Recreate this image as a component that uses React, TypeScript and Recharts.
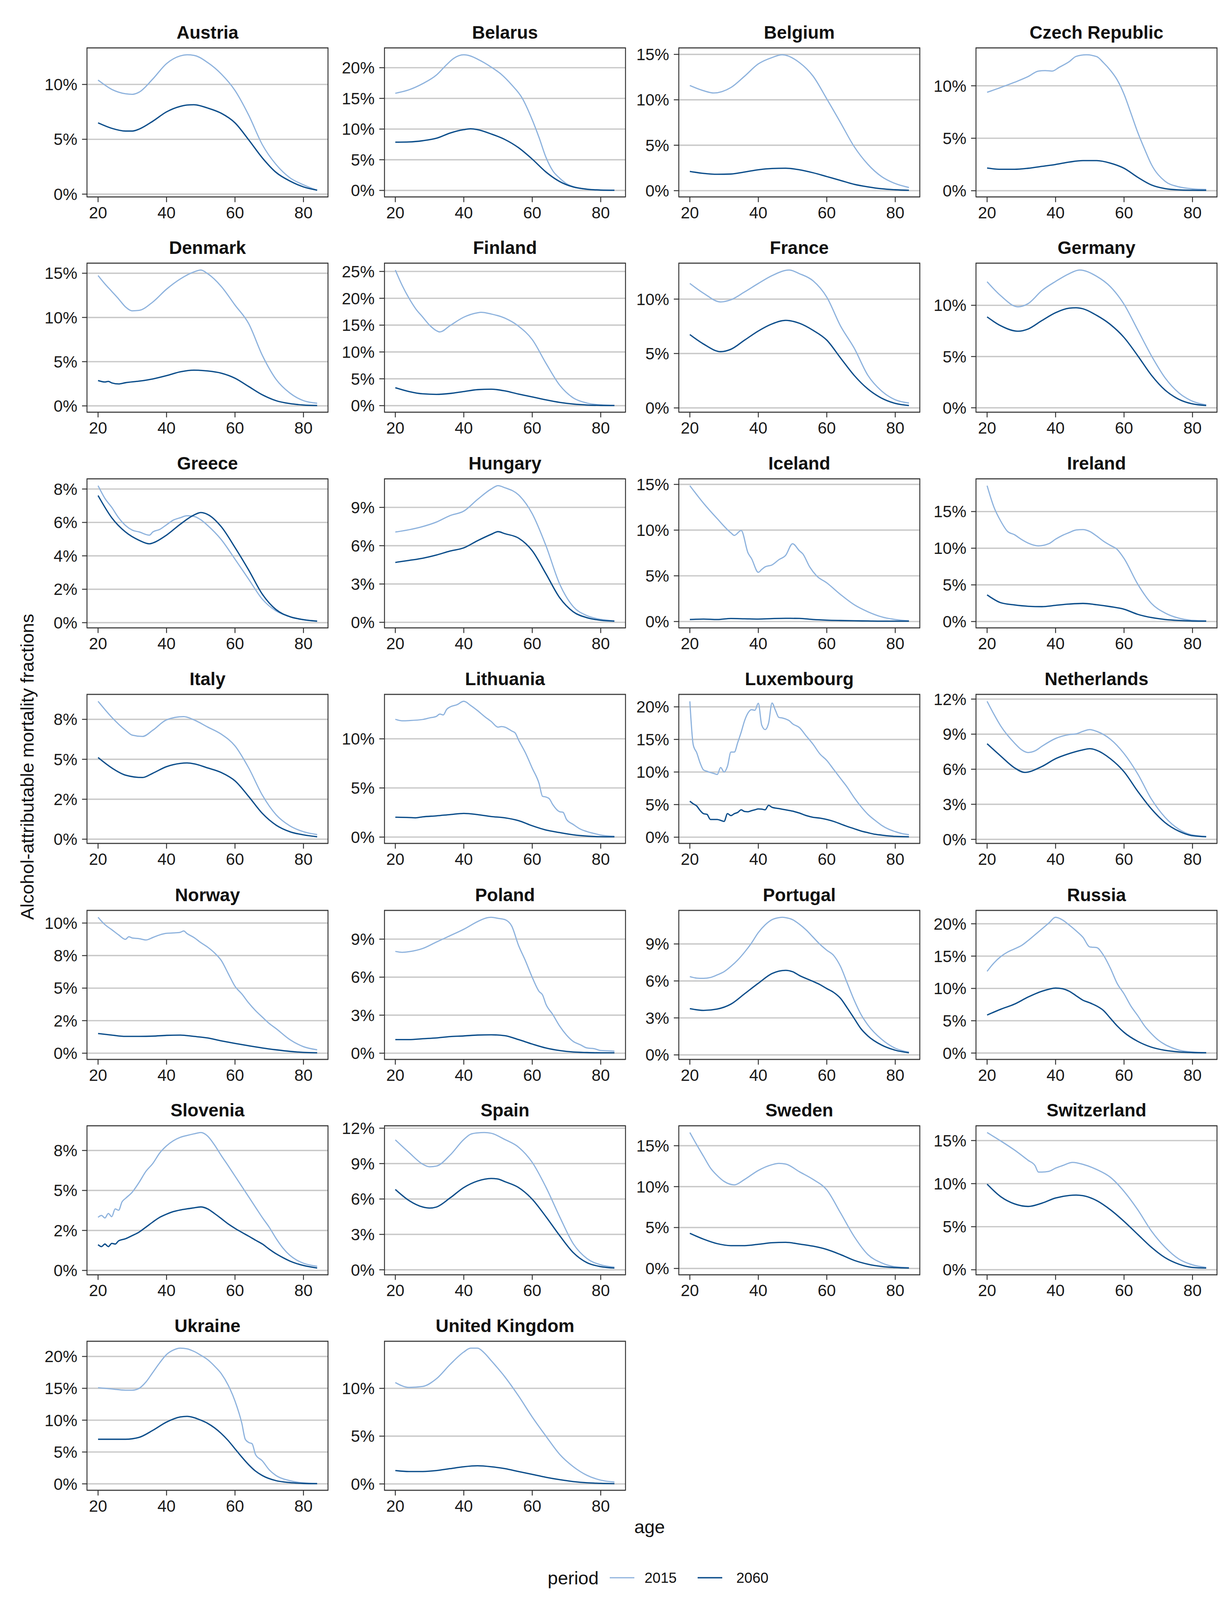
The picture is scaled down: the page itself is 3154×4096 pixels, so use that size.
import React from 'react';
import { LineChart, Line, XAxis, YAxis, CartesianGrid } from 'recharts';

const AGE_TICKS = [20, 40, 60, 80];
const A = [20, 24, 28, 32, 36, 40, 44, 48, 52, 56, 60, 64, 68, 72, 76, 80, 84];

// Austria
const austriaAge15 = [20, 24, 28, 30, 32, 36, 40, 44, 46, 48, 52, 56, 60, 64, 68, 72, 76, 80, 84];
const austriaVal15 = [10.4, 9.55, 9.15, 9.1, 9.3, 10.5, 11.9, 12.6, 12.7, 12.65, 12.0, 10.95, 9.45, 7.2, 4.5, 2.7, 1.5, 0.85, 0.35];
const austriaAge60 = austriaAge15;
const austriaVal60 = [6.5, 6.0, 5.75, 5.75, 5.93, 6.65, 7.5, 8.0, 8.12, 8.15, 7.85, 7.37, 6.5, 4.95, 3.3, 1.98, 1.2, 0.66, 0.36];
const austriaTicks = [0, 5, 10];

// Belarus
const belarusAge15 = [20, 24, 28, 32, 35, 37, 40, 42, 44, 46, 48, 51, 54, 57, 60, 62, 64, 66, 68, 70, 74, 78, 84];
const belarusVal15 = [15.84, 16.4, 17.4, 18.8, 20.5, 21.5, 22.1, 21.9, 21.4, 20.8, 20.1, 18.9, 17.2, 15.1, 11.5, 8.6, 5.4, 3.2, 2.0, 1.1, 0.35, 0.1, 0.03];
const belarusAge60 = [20, 24, 28, 32, 36, 40, 42, 44, 48, 52, 56, 60, 64, 68, 72, 76, 80, 84];
const belarusVal60 = [7.86, 7.9, 8.1, 8.5, 9.35, 9.9, 10.05, 9.9, 9.2, 8.3, 6.96, 5.1, 3.0, 1.45, 0.56, 0.2, 0.06, 0.02];
const belarusTicks = [0, 5, 10, 15, 20];

// Belgium
const belgiumAge15 = [20, 24, 27, 32, 36, 40, 44, 47, 52, 56, 60, 64, 68, 72, 76, 80, 84];
const belgiumVal15 = [11.57, 11.0, 10.75, 11.35, 12.6, 13.95, 14.65, 14.95, 14.1, 12.6, 10.1, 7.5, 4.85, 2.9, 1.55, 0.78, 0.35];
const belgiumAge60 = A;
const belgiumVal60 = [2.12, 1.9, 1.8, 1.83, 2.05, 2.3, 2.44, 2.47, 2.3, 1.97, 1.55, 1.13, 0.7, 0.42, 0.21, 0.1, 0.04];
const belgiumTicks = [0, 5, 10, 15];

// Czech Republic
const czechAge15 = [20, 24, 28, 32, 35, 37, 39, 41, 44, 46, 49, 52, 54, 56, 58, 60, 62, 64, 66, 68, 72, 76, 80, 84];
const czechVal15 = [9.38, 9.84, 10.33, 10.88, 11.4, 11.45, 11.4, 11.75, 12.3, 12.8, 12.95, 12.78, 12.2, 11.48, 10.56, 9.2, 7.4, 5.56, 3.97, 2.5, 0.9, 0.37, 0.18, 0.12];
const czechAge60 = A;
const czechVal60 = [2.16, 2.04, 2.04, 2.14, 2.32, 2.5, 2.73, 2.87, 2.87, 2.63, 2.14, 1.28, 0.55, 0.2, 0.08, 0.05, 0.04];
const czechTicks = [0, 5, 10];

// Denmark
const denmarkAge15 = [20, 22, 24, 26, 28, 30, 32, 36, 40, 44, 48, 50, 52, 56, 60, 64, 68, 72, 76, 80, 84];
const denmarkVal15 = [14.74, 13.8, 12.95, 12.1, 11.2, 10.75, 10.8, 11.75, 13.2, 14.35, 15.15, 15.36, 14.95, 13.5, 11.4, 9.3, 5.7, 3.0, 1.46, 0.59, 0.3];
const denmarkAge60 = [20, 22, 23, 24, 26, 28, 32, 36, 40, 44, 48, 52, 56, 60, 64, 68, 72, 76, 80, 84];
const denmarkVal60 = [2.87, 2.7, 2.77, 2.6, 2.48, 2.62, 2.8, 3.05, 3.42, 3.85, 4.04, 3.95, 3.7, 3.13, 2.19, 1.25, 0.59, 0.26, 0.1, 0.04];
const denmarkTicks = [0, 5, 10, 15];

// Finland
const finlandAge15 = [20, 22, 24, 26, 28, 30, 32, 33, 36, 40, 44, 45, 48, 52, 56, 60, 64, 68, 72, 76, 80, 84];
const finlandVal15 = [25.26, 22.4, 20.0, 18.0, 16.5, 15.0, 13.97, 13.73, 14.92, 16.48, 17.3, 17.38, 17.07, 16.3, 14.8, 12.3, 7.9, 3.82, 1.43, 0.48, 0.14, 0.05];
const finlandAge60 = A;
const finlandVal60 = [3.34, 2.63, 2.2, 2.1, 2.27, 2.63, 2.98, 3.06, 2.75, 2.15, 1.62, 1.07, 0.6, 0.29, 0.12, 0.05, 0.02];
const finlandTicks = [0, 5, 10, 15, 20, 25];

// France
const franceAge15 = [20, 24, 29, 32, 36, 40, 44, 49, 52, 56, 60, 64, 68, 72, 76, 80, 84];
const franceVal15 = [11.44, 10.54, 9.74, 9.94, 10.66, 11.44, 12.16, 12.67, 12.34, 11.68, 10.18, 7.54, 5.5, 3.0, 1.56, 0.75, 0.45];
const franceAge60 = [20, 24, 29, 32, 36, 40, 44, 48, 52, 56, 60, 64, 68, 72, 76, 80, 84];
const franceVal60 = [6.74, 5.87, 5.17, 5.39, 6.23, 7.07, 7.72, 8.05, 7.78, 7.13, 6.23, 4.6, 2.99, 1.74, 0.9, 0.42, 0.22];
const franceTicks = [0, 5, 10];

// Germany
const germanyAge15 = [20, 24, 29, 32, 36, 40, 44, 47, 52, 56, 60, 64, 68, 72, 76, 80, 84];
const germanyVal15 = [12.3, 10.93, 9.85, 10.17, 11.44, 12.33, 13.09, 13.44, 12.83, 11.82, 10.1, 7.6, 5.08, 2.92, 1.46, 0.64, 0.28];
const germanyAge60 = [20, 24, 29, 32, 36, 40, 44, 46, 48, 52, 56, 60, 64, 68, 72, 76, 80, 84];
const germanyVal60 = [8.87, 8.0, 7.47, 7.69, 8.51, 9.28, 9.72, 9.76, 9.66, 9.02, 8.13, 6.86, 5.08, 3.18, 1.72, 0.83, 0.38, 0.22];
const germanyTicks = [0, 5, 10];

// Greece
const greeceAge15 = [20, 22, 24, 26, 28, 30, 32, 35, 36, 38, 40, 42, 44, 46, 48, 50, 52, 56, 60, 64, 68, 72, 76, 80, 84];
const greeceVal15 = [8.2, 7.44, 6.9, 6.28, 5.82, 5.54, 5.43, 5.24, 5.43, 5.58, 5.86, 6.14, 6.28, 6.4, 6.36, 6.16, 5.82, 4.97, 3.8, 2.6, 1.4, 0.7, 0.36, 0.18, 0.09];
const greeceAge60 = [20, 24, 28, 32, 35, 36, 40, 44, 48, 50, 52, 56, 60, 64, 68, 72, 76, 80, 84];
const greeceVal60 = [7.61, 6.28, 5.43, 4.93, 4.72, 4.77, 5.24, 5.89, 6.44, 6.59, 6.48, 5.74, 4.5, 3.15, 1.7, 0.78, 0.36, 0.18, 0.09];
const greeceTicks = [0, 2, 4, 6, 8];

// Hungary
const hungaryAge15 = [20, 24, 28, 32, 36, 40, 44, 48, 50, 52, 56, 60, 64, 68, 72, 76, 80, 84];
const hungaryVal15 = [7.07, 7.25, 7.5, 7.85, 8.36, 8.71, 9.62, 10.44, 10.7, 10.54, 9.98, 8.5, 6.0, 3.0, 1.22, 0.52, 0.23, 0.11];
const hungaryAge60 = hungaryAge15;
const hungaryVal60 = [4.69, 4.85, 5.02, 5.27, 5.58, 5.83, 6.39, 6.89, 7.1, 6.94, 6.59, 5.6, 3.8, 1.93, 0.82, 0.36, 0.16, 0.09];
const hungaryTicks = [0, 3, 6, 9];

// Iceland
const icelandAge15 = [20, 24, 28, 32, 33, 35, 37, 38, 40, 41, 42, 44, 46, 48, 50, 52, 53, 55, 57, 60, 64, 68, 72, 76, 80, 84];
const icelandVal15 = [14.86, 12.94, 11.25, 9.7, 9.42, 9.96, 7.5, 6.9, 5.38, 5.7, 5.98, 6.19, 6.76, 7.25, 8.51, 7.74, 7.4, 5.98, 5.0, 4.23, 2.96, 1.84, 1.07, 0.51, 0.22, 0.08];
const icelandAge60 = A;
const icelandVal60 = [0.22, 0.27, 0.22, 0.33, 0.3, 0.27, 0.32, 0.35, 0.34, 0.22, 0.15, 0.11, 0.08, 0.06, 0.04, 0.04, 0.04];
const icelandTicks = [0, 5, 10, 15];

// Ireland
const irelandAge15 = [20, 22, 24, 26, 28, 30, 32, 35, 38, 40, 42, 44, 46, 48, 50, 52, 54, 56, 58, 60, 64, 68, 72, 76, 80, 84];
const irelandVal15 = [18.53, 15.6, 13.68, 12.28, 11.84, 11.21, 10.7, 10.32, 10.61, 11.23, 11.75, 12.14, 12.49, 12.54, 12.28, 11.66, 10.96, 10.39, 9.83, 8.6, 5.1, 2.47, 1.16, 0.46, 0.16, 0.1];
const irelandAge60 = A;
const irelandVal60 = [3.64, 2.56, 2.26, 2.08, 2.03, 2.21, 2.38, 2.47, 2.29, 2.03, 1.68, 0.98, 0.54, 0.28, 0.14, 0.07, 0.05];
const irelandTicks = [0, 5, 10, 15];

// Italy
const italyAge15 = [20, 24, 28, 30, 33, 36, 40, 45, 48, 52, 56, 60, 64, 68, 72, 76, 80, 84];
const italyVal15 = [8.63, 7.63, 6.82, 6.51, 6.43, 6.82, 7.47, 7.67, 7.47, 7.02, 6.57, 5.84, 4.46, 2.75, 1.53, 0.84, 0.47, 0.29];
const italyAge60 = [20, 24, 28, 33, 36, 40, 44, 46, 48, 52, 56, 60, 64, 68, 72, 76, 80, 84];
const italyVal60 = [5.11, 4.46, 4.01, 3.86, 4.13, 4.54, 4.74, 4.77, 4.72, 4.46, 4.17, 3.65, 2.67, 1.61, 0.88, 0.47, 0.27, 0.15];
const italyTicks = [0, 2.5, 5, 7.5];

// Lithuania
const lithuaniaAge15 = [20, 22, 24, 28, 30, 32, 33, 34, 35, 36, 38, 40, 42, 44, 46, 48, 50, 51, 52, 54, 55, 56, 58, 60, 62, 63, 64, 65, 66, 68, 69, 70, 72, 74, 76, 78, 80, 84];
const lithuaniaVal15 = [11.99, 11.84, 11.86, 11.97, 12.13, 12.29, 12.52, 12.43, 13.0, 13.25, 13.47, 13.82, 13.4, 12.88, 12.29, 11.77, 11.19, 11.25, 11.19, 10.8, 10.6, 9.88, 8.58, 7.01, 5.45, 4.15, 4.08, 3.89, 3.3, 2.58, 2.52, 1.8, 1.28, 0.82, 0.56, 0.37, 0.21, 0.08];
const lithuaniaAge60 = [20, 24, 26, 28, 32, 36, 40, 44, 48, 52, 56, 60, 64, 68, 72, 76, 80, 84];
const lithuaniaVal60 = [2.02, 1.99, 1.96, 2.06, 2.16, 2.29, 2.41, 2.29, 2.09, 1.96, 1.67, 1.15, 0.72, 0.46, 0.23, 0.1, 0.04, 0.03];
const lithuaniaTicks = [0, 5, 10];

// Luxembourg
const luxembourgAge15 = [20, 21, 22, 23, 24, 25, 26, 27, 28, 29, 30, 31, 32, 33, 34, 35, 36, 37, 38, 39, 40, 41, 42, 43, 44, 45, 46, 47, 48, 49, 50, 52, 54, 56, 58, 60, 62, 64, 66, 68, 70, 72, 74, 76, 78, 80, 82, 84];
const luxembourgVal15 = [20.85, 14.15, 12.97, 11.39, 10.31, 10.11, 9.92, 9.78, 9.62, 10.7, 10.0, 10.9, 13.06, 13.06, 14.54, 16.12, 17.89, 19.07, 19.57, 19.47, 20.55, 17.2, 16.51, 17.5, 20.59, 19.47, 18.38, 18.29, 18.13, 17.89, 17.4, 16.81, 15.53, 14.25, 12.77, 11.78, 10.4, 9.02, 7.65, 6.07, 4.69, 3.51, 2.62, 1.83, 1.24, 0.85, 0.55, 0.39];
const luxembourgAge60 = [20, 21, 22, 23, 24, 25, 26, 28, 29, 30, 31, 32, 33, 34, 35, 36, 37, 38, 39, 40, 41, 42, 43, 44, 46, 48, 50, 52, 54, 56, 58, 60, 62, 64, 66, 68, 70, 72, 74, 76, 78, 80, 84];
const luxembourgVal60 = [5.52, 5.12, 4.79, 4.1, 3.61, 3.51, 2.72, 2.72, 2.58, 2.42, 3.61, 3.31, 3.61, 3.8, 4.2, 3.94, 3.9, 4.06, 4.2, 4.33, 4.3, 4.2, 4.89, 4.59, 4.39, 4.2, 4.0, 3.7, 3.31, 3.05, 2.92, 2.72, 2.42, 2.03, 1.64, 1.3, 0.95, 0.69, 0.45, 0.32, 0.2, 0.12, 0.06];
const luxembourgTicks = [0, 5, 10, 15, 20];

// Netherlands
const netherlandsAge15 = [20, 22, 24, 28, 30, 32, 34, 36, 40, 44, 46, 48, 50, 52, 56, 60, 64, 68, 72, 76, 80, 84];
const netherlandsVal15 = [11.81, 10.7, 9.69, 8.24, 7.68, 7.43, 7.57, 7.96, 8.63, 8.96, 9.02, 9.24, 9.39, 9.24, 8.57, 7.34, 5.6, 3.44, 1.88, 0.87, 0.37, 0.25];
const netherlandsAge60 = [20, 24, 28, 31, 36, 40, 44, 48, 50, 52, 56, 60, 64, 68, 72, 76, 80, 84];
const netherlandsVal60 = [8.18, 7.12, 6.12, 5.73, 6.23, 6.9, 7.34, 7.66, 7.76, 7.62, 6.9, 5.78, 4.11, 2.6, 1.43, 0.7, 0.31, 0.22];
const netherlandsTicks = [0, 3, 6, 9, 12];

// Norway
const norwayAge15 = [20, 22, 24, 26, 28, 29, 30, 32, 34, 36, 38, 40, 42, 44, 45, 46, 48, 50, 52, 54, 56, 58, 60, 62, 64, 66, 68, 70, 72, 76, 80, 84];
const norwayVal15 = [10.44, 9.88, 9.49, 9.09, 8.75, 8.95, 8.85, 8.8, 8.7, 8.89, 9.09, 9.21, 9.24, 9.29, 9.39, 9.19, 8.89, 8.5, 8.15, 7.71, 7.12, 6.13, 5.14, 4.55, 3.86, 3.27, 2.77, 2.28, 1.89, 1.05, 0.5, 0.26];
const norwayAge60 = A;
const norwayVal60 = [1.51, 1.39, 1.29, 1.29, 1.31, 1.37, 1.39, 1.29, 1.17, 0.95, 0.75, 0.57, 0.4, 0.26, 0.14, 0.06, 0.03];
const norwayTicks = [0, 2.5, 5, 7.5, 10];

// Poland
const polandAge15 = [20, 22, 24, 28, 32, 36, 40, 44, 46, 48, 50, 52, 54, 56, 58, 60, 62, 63, 64, 66, 68, 70, 72, 74, 76, 78, 80, 82, 84];
const polandVal15 = [8.03, 7.96, 8.01, 8.26, 8.77, 9.27, 9.78, 10.38, 10.62, 10.72, 10.64, 10.54, 10.03, 8.5, 7.3, 5.98, 4.87, 4.6, 3.86, 3.05, 2.14, 1.43, 0.92, 0.67, 0.41, 0.36, 0.21, 0.19, 0.16];
const polandAge60 = A;
const polandVal60 = [1.07, 1.07, 1.14, 1.2, 1.31, 1.36, 1.43, 1.45, 1.38, 1.07, 0.72, 0.41, 0.21, 0.09, 0.05, 0.03, 0.03];
const polandTicks = [0, 3, 6, 9];

// Portugal
const portugalAge15 = [20, 22, 24, 26, 28, 30, 32, 34, 36, 38, 40, 42, 44, 46, 47, 48, 50, 52, 54, 56, 58, 60, 62, 64, 66, 68, 70, 72, 76, 80, 84];
const portugalVal15 = [6.35, 6.23, 6.21, 6.28, 6.49, 6.75, 7.18, 7.7, 8.34, 9.07, 9.92, 10.55, 10.97, 11.13, 11.16, 11.13, 10.97, 10.6, 10.13, 9.55, 8.97, 8.49, 8.07, 7.18, 5.81, 4.44, 3.28, 2.43, 1.27, 0.54, 0.22];
const portugalAge60 = [20, 24, 28, 32, 36, 40, 44, 48, 50, 52, 56, 58, 60, 62, 64, 66, 68, 70, 72, 76, 80, 84];
const portugalVal60 = [3.75, 3.61, 3.72, 4.12, 4.96, 5.81, 6.6, 6.86, 6.75, 6.44, 5.96, 5.7, 5.38, 5.07, 4.59, 3.8, 2.96, 2.12, 1.54, 0.8, 0.38, 0.17];
const portugalTicks = [0, 3, 6, 9];

// Russia
const russiaAge15 = [20, 22, 24, 26, 28, 30, 32, 34, 36, 38, 40, 42, 44, 46, 48, 50, 52, 54, 56, 58, 60, 62, 64, 66, 68, 70, 72, 74, 76, 80, 84];
const russiaVal15 = [12.64, 13.94, 14.93, 15.63, 16.12, 16.62, 17.42, 18.31, 19.2, 20.1, 21.0, 20.6, 19.8, 18.91, 17.91, 16.42, 16.32, 15.13, 13.14, 10.76, 9.16, 7.28, 5.79, 4.2, 3.0, 2.01, 1.31, 0.82, 0.46, 0.16, 0.06];
const russiaAge60 = [20, 24, 28, 32, 36, 38, 40, 42, 44, 46, 48, 50, 52, 54, 56, 58, 60, 64, 68, 72, 76, 80, 84];
const russiaVal60 = [5.88, 6.78, 7.57, 8.67, 9.56, 9.86, 10.06, 9.96, 9.56, 8.87, 8.17, 7.77, 7.28, 6.58, 5.39, 4.2, 3.2, 1.81, 0.91, 0.42, 0.18, 0.08, 0.04];
const russiaTicks = [0, 5, 10, 15, 20];

// Slovenia
const sloveniaAge15 = [20, 21, 22, 23, 24, 25, 26, 27, 28, 30, 32, 34, 36, 38, 40, 42, 44, 46, 48, 50, 52, 54, 56, 58, 60, 62, 64, 66, 68, 70, 72, 74, 76, 78, 80, 84];
const sloveniaVal15 = [3.32, 3.44, 3.28, 3.56, 3.36, 3.85, 3.76, 4.29, 4.5, 4.9, 5.51, 6.2, 6.69, 7.34, 7.79, 8.11, 8.32, 8.44, 8.54, 8.62, 8.4, 7.85, 7.18, 6.55, 5.9, 5.25, 4.6, 3.95, 3.3, 2.7, 2.0, 1.4, 0.95, 0.65, 0.45, 0.26];
const sloveniaAge60 = [20, 21, 22, 23, 24, 25, 26, 28, 30, 32, 34, 36, 38, 40, 42, 44, 46, 48, 50, 52, 54, 56, 58, 60, 62, 64, 66, 68, 70, 72, 74, 76, 78, 80, 84];
const sloveniaVal60 = [1.61, 1.49, 1.65, 1.49, 1.69, 1.65, 1.85, 1.98, 2.18, 2.4, 2.71, 3.03, 3.32, 3.52, 3.68, 3.78, 3.85, 3.91, 3.97, 3.85, 3.56, 3.24, 2.91, 2.63, 2.38, 2.14, 1.89, 1.65, 1.33, 1.04, 0.8, 0.59, 0.43, 0.31, 0.15];
const sloveniaTicks = [0, 2.5, 5, 7.5];

// Spain
const spainAge15 = [20, 24, 28, 30, 32, 36, 40, 42, 44, 46, 48, 52, 56, 60, 64, 68, 72, 76, 80, 84];
const spainVal15 = [11.01, 9.94, 8.95, 8.73, 8.79, 9.72, 11.04, 11.49, 11.6, 11.63, 11.57, 11.04, 10.39, 9.1, 7.0, 4.5, 2.2, 0.95, 0.42, 0.22];
const spainAge60 = [20, 24, 28, 30, 32, 36, 40, 44, 48, 50, 52, 56, 60, 64, 68, 72, 76, 80, 84];
const spainVal60 = [6.81, 5.87, 5.32, 5.23, 5.32, 6.09, 6.97, 7.52, 7.74, 7.69, 7.47, 6.97, 5.98, 4.5, 2.9, 1.45, 0.6, 0.27, 0.15];
const spainTicks = [0, 3, 6, 9, 12];

// Sweden
const swedenAge15 = [20, 22, 24, 26, 28, 30, 33, 36, 40, 44, 46, 48, 52, 56, 60, 64, 68, 72, 76, 80, 84];
const swedenVal15 = [16.61, 15.12, 13.7, 12.29, 11.35, 10.64, 10.22, 10.88, 11.98, 12.68, 12.84, 12.76, 11.82, 10.88, 9.6, 6.8, 3.9, 1.7, 0.68, 0.2, 0.09];
const swedenAge60 = A;
const swedenVal60 = [4.29, 3.58, 3.03, 2.79, 2.79, 2.95, 3.14, 3.19, 2.98, 2.72, 2.32, 1.7, 0.99, 0.52, 0.24, 0.11, 0.05];
const swedenTicks = [0, 5, 10, 15];

// Switzerland
const switzerlandAge15 = [20, 24, 28, 32, 34, 35, 36, 38, 40, 42, 45, 48, 52, 56, 60, 64, 68, 72, 76, 80, 84];
const switzerlandVal15 = [15.93, 14.95, 13.9, 12.7, 12.09, 11.34, 11.34, 11.42, 11.8, 12.09, 12.47, 12.24, 11.64, 10.74, 9.1, 6.97, 4.5, 2.61, 1.25, 0.57, 0.27];
const switzerlandAge60 = [20, 24, 28, 32, 36, 40, 44, 46, 48, 52, 56, 60, 64, 68, 72, 76, 80, 84];
const switzerlandVal60 = [9.94, 8.48, 7.65, 7.35, 7.73, 8.33, 8.63, 8.67, 8.6, 8.03, 6.97, 5.62, 4.11, 2.61, 1.4, 0.65, 0.27, 0.2];
const switzerlandTicks = [0, 5, 10, 15];

// Ukraine
const ukraineAge15 = [20, 24, 28, 30, 32, 34, 36, 38, 40, 42, 44, 46, 48, 50, 52, 54, 56, 58, 60, 62, 63, 64, 65, 66, 68, 70, 72, 76, 80, 84];
const ukraineVal15 = [15.1, 14.9, 14.7, 14.7, 15.0, 16.0, 17.5, 19.0, 20.3, 21.0, 21.3, 21.2, 20.8, 20.2, 19.5, 18.5, 17.3, 15.5, 13.0, 9.5, 7.0, 6.5, 6.3, 4.6, 3.6, 2.2, 1.3, 0.5, 0.15, 0.05];
const ukraineAge60 = [20, 24, 28, 32, 36, 40, 44, 46, 48, 50, 52, 54, 56, 58, 60, 62, 64, 66, 68, 72, 76, 80, 84];
const ukraineVal60 = [7.0, 7.0, 7.0, 7.3, 8.4, 9.7, 10.5, 10.6, 10.4, 10.0, 9.5, 8.8, 7.9, 6.8, 5.5, 4.2, 3.0, 2.0, 1.3, 0.5, 0.2, 0.07, 0.03];
const ukraineTicks = [0, 5, 10, 15, 20];

// United Kingdom
const ukAge15 = [20, 24, 28, 32, 36, 40, 42, 44, 46, 48, 52, 56, 60, 64, 68, 72, 76, 80, 84];
const ukVal15 = [10.6, 10.1, 10.2, 11.0, 12.5, 13.8, 14.2, 14.2, 13.7, 12.9, 11.2, 9.2, 7.0, 5.0, 3.1, 1.8, 0.9, 0.4, 0.2];
const ukAge60 = A;
const ukVal60 = [1.4, 1.3, 1.3, 1.4, 1.6, 1.8, 1.9, 1.8, 1.6, 1.3, 1.0, 0.7, 0.45, 0.25, 0.12, 0.06, 0.03];
const ukTicks = [0, 5, 10];

const PANELS = [
  { name: 'Austria', a15: austriaAge15, v15: austriaVal15, a60: austriaAge60, v60: austriaVal60, ticks: austriaTicks },
  { name: 'Belarus', a15: belarusAge15, v15: belarusVal15, a60: belarusAge60, v60: belarusVal60, ticks: belarusTicks },
  { name: 'Belgium', a15: belgiumAge15, v15: belgiumVal15, a60: belgiumAge60, v60: belgiumVal60, ticks: belgiumTicks },
  { name: 'Czech Republic', a15: czechAge15, v15: czechVal15, a60: czechAge60, v60: czechVal60, ticks: czechTicks },
  { name: 'Denmark', a15: denmarkAge15, v15: denmarkVal15, a60: denmarkAge60, v60: denmarkVal60, ticks: denmarkTicks },
  { name: 'Finland', a15: finlandAge15, v15: finlandVal15, a60: finlandAge60, v60: finlandVal60, ticks: finlandTicks },
  { name: 'France', a15: franceAge15, v15: franceVal15, a60: franceAge60, v60: franceVal60, ticks: franceTicks },
  { name: 'Germany', a15: germanyAge15, v15: germanyVal15, a60: germanyAge60, v60: germanyVal60, ticks: germanyTicks },
  { name: 'Greece', a15: greeceAge15, v15: greeceVal15, a60: greeceAge60, v60: greeceVal60, ticks: greeceTicks },
  { name: 'Hungary', a15: hungaryAge15, v15: hungaryVal15, a60: hungaryAge60, v60: hungaryVal60, ticks: hungaryTicks },
  { name: 'Iceland', a15: icelandAge15, v15: icelandVal15, a60: icelandAge60, v60: icelandVal60, ticks: icelandTicks },
  { name: 'Ireland', a15: irelandAge15, v15: irelandVal15, a60: irelandAge60, v60: irelandVal60, ticks: irelandTicks },
  { name: 'Italy', a15: italyAge15, v15: italyVal15, a60: italyAge60, v60: italyVal60, ticks: italyTicks },
  { name: 'Lithuania', a15: lithuaniaAge15, v15: lithuaniaVal15, a60: lithuaniaAge60, v60: lithuaniaVal60, ticks: lithuaniaTicks },
  { name: 'Luxembourg', a15: luxembourgAge15, v15: luxembourgVal15, a60: luxembourgAge60, v60: luxembourgVal60, ticks: luxembourgTicks },
  { name: 'Netherlands', a15: netherlandsAge15, v15: netherlandsVal15, a60: netherlandsAge60, v60: netherlandsVal60, ticks: netherlandsTicks },
  { name: 'Norway', a15: norwayAge15, v15: norwayVal15, a60: norwayAge60, v60: norwayVal60, ticks: norwayTicks },
  { name: 'Poland', a15: polandAge15, v15: polandVal15, a60: polandAge60, v60: polandVal60, ticks: polandTicks },
  { name: 'Portugal', a15: portugalAge15, v15: portugalVal15, a60: portugalAge60, v60: portugalVal60, ticks: portugalTicks },
  { name: 'Russia', a15: russiaAge15, v15: russiaVal15, a60: russiaAge60, v60: russiaVal60, ticks: russiaTicks },
  { name: 'Slovenia', a15: sloveniaAge15, v15: sloveniaVal15, a60: sloveniaAge60, v60: sloveniaVal60, ticks: sloveniaTicks },
  { name: 'Spain', a15: spainAge15, v15: spainVal15, a60: spainAge60, v60: spainVal60, ticks: spainTicks },
  { name: 'Sweden', a15: swedenAge15, v15: swedenVal15, a60: swedenAge60, v60: swedenVal60, ticks: swedenTicks },
  { name: 'Switzerland', a15: switzerlandAge15, v15: switzerlandVal15, a60: switzerlandAge60, v60: switzerlandVal60, ticks: switzerlandTicks },
  { name: 'Ukraine', a15: ukraineAge15, v15: ukraineVal15, a60: ukraineAge60, v60: ukraineVal60, ticks: ukraineTicks },
  { name: 'United Kingdom', a15: ukAge15, v15: ukVal15, a60: ukAge60, v60: ukVal60, ticks: ukTicks },
];

// ---------- layout (output pixels) ----------
const FONT = '"Liberation Sans", Arial, Helvetica, sans-serif';
const COL_X = [222.7, 984.3, 1737.8, 2498.6];
const ROW_Y = [122.5, 673.6, 1225.8, 1777.5, 2330.5, 2882, 3433.5];
const PW = 617;
const PH = 381.5;
const YW = 170;
const MT = 40;
const MR = 10;
const XH = 80;
const C2015 = '#8db2dd';
const C2060 = '#0b4d8a';
const GRID = '#c8c8c8';
const INK = '#1a1a1a';
const TICK_FS = 42;
const TITLE_FS = 46;

const X_DOMAIN: [number, number] = [20 - 0.05 * 64, 84 + 0.05 * 64];

function roundHalfEven(v: number): number {
  const f = Math.floor(v);
  const d = v - f;
  if (Math.abs(d - 0.5) < 1e-9) return f % 2 === 0 ? f : f + 1;
  return Math.round(v);
}
const pct = (v: number) => `${roundHalfEven(v)}%`;

function rows(ages: number[], vals: number[]) {
  return ages.map((age, i) => ({ age, v: vals[i] }));
}

function Panel({ p, idx }: { p: any; idx: number }) {
  const col = idx % 4;
  const row = Math.floor(idx / 4);
  const all = [...p.v15, ...p.v60];
  const lo = Math.min(...all);
  const hi = Math.max(...all);
  const pad = 0.05 * (hi - lo);
  const domain: [number, number] = [lo - pad, hi + pad];
  const W = YW + PW + MR;
  const H = MT + PH + XH;
  return (
    <div style={{ position: 'absolute', left: COL_X[col] - YW, top: ROW_Y[row] - MT, width: W, height: H }}>
      <LineChart width={W} height={H} margin={{ top: MT, right: MR, bottom: 0, left: 0 }}>
        <CartesianGrid horizontal vertical={false} stroke={GRID} strokeWidth={3.4} />
        <XAxis
          dataKey="age"
          type="number"
          domain={X_DOMAIN}
          allowDataOverflow
          ticks={AGE_TICKS}
          interval={0}
          height={XH}
          axisLine={false}
          tickLine={{ stroke: '#333333', strokeWidth: 2.4 }}
          tickSize={13}
          tickMargin={12}
          tick={{ fontSize: TICK_FS, fill: INK, fontFamily: FONT }}
        />
        <YAxis
          type="number"
          domain={domain}
          allowDataOverflow
          ticks={p.ticks}
          interval={0}
          width={YW}
          axisLine={false}
          tickLine={{ stroke: '#333333', strokeWidth: 2.4 }}
          tickSize={13}
          tickMargin={12}
          tickFormatter={pct}
          tick={{ fontSize: TICK_FS, fill: INK, fontFamily: FONT }}
        />
        <Line
          data={rows(p.a15, p.v15)}
          dataKey="v"
          type="monotone"
          stroke={C2015}
          strokeWidth={3}
          dot={false}
          activeDot={false}
          isAnimationActive={false}
        />
        <Line
          data={rows(p.a60, p.v60)}
          dataKey="v"
          type="monotone"
          stroke={C2060}
          strokeWidth={3.3}
          dot={false}
          activeDot={false}
          isAnimationActive={false}
        />
      </LineChart>
    </div>
  );
}

export default function App() {
  return (
    <div style={{ position: 'absolute', left: 0, top: 0, width: 3154, height: 4096, background: '#ffffff', overflow: 'hidden' }}>
      {PANELS.map((p, i) => (
        <Panel key={p.name} p={p} idx={i} />
      ))}
      <svg
        width={3154}
        height={4096}
        style={{ position: 'absolute', left: 0, top: 0, pointerEvents: 'none' }}
        fontFamily={FONT}
      >
        {PANELS.map((p, i) => {
          const col = i % 4;
          const row = Math.floor(i / 4);
          return (
            <g key={p.name}>
              <rect x={COL_X[col]} y={ROW_Y[row]} width={PW} height={PH} fill="none" stroke="#333333" strokeWidth={2.4} />
              <text
                x={COL_X[col] + PW / 2}
                y={ROW_Y[row] - 24}
                textAnchor="middle"
                fontSize={TITLE_FS}
                fontWeight="bold"
                fill="#111111"
              >
                {p.name}
              </text>
            </g>
          );
        })}
        <text
          transform={`translate(86, 1963) rotate(-90)`}
          textAnchor="middle"
          fontSize={47}
          fill="#111111"
        >
          Alcohol-attributable mortality fractions
        </text>
        <text x={1663} y={3925} textAnchor="middle" fontSize={47} fill="#111111">
          age
        </text>
        <g>
          <text x={1402} y={4056} fontSize={47} fill="#111111">period</text>
          <line x1={1561} y1={4039} x2={1624} y2={4039} stroke={C2015} strokeWidth={3} />
          <text x={1650} y={4052} fontSize={37} fill="#111111">2015</text>
          <line x1={1786} y1={4039} x2={1849} y2={4039} stroke={C2060} strokeWidth={3.4} />
          <text x={1885} y={4052} fontSize={37} fill="#111111">2060</text>
        </g>
      </svg>
    </div>
  );
}
